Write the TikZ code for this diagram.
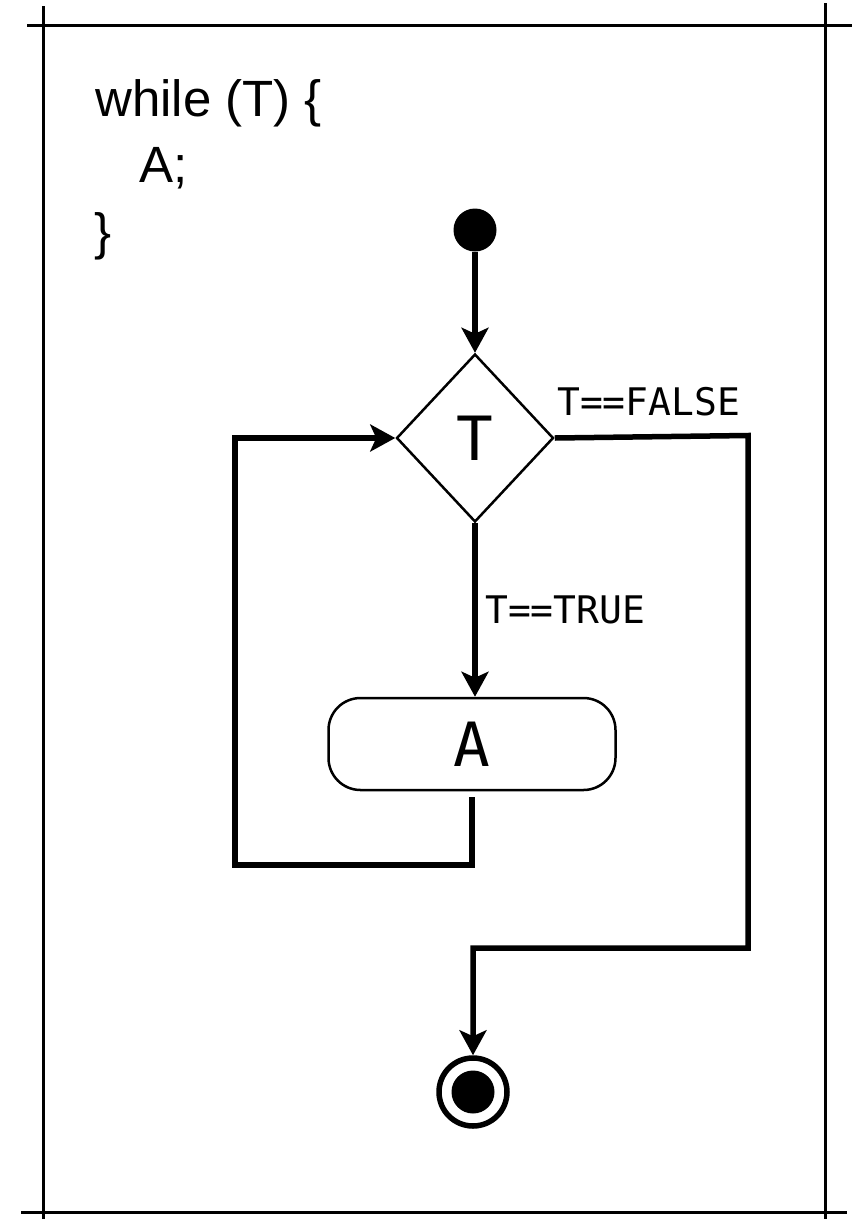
\documentclass[tikz,border=0pt]{standalone}
\usepackage{fontspec}
\setmainfont{Liberation Sans}
\newfontfamily\monof{DejaVu Sans Mono}
\usetikzlibrary{arrows.meta,shapes.geometric}
\begin{document}
\begin{tikzpicture}[x=1pt,y=-1pt,
  conn/.style={line width=5.5pt, -{Stealth[length=25pt,width=27pt,inset=6pt]}},
  frame/.style={line width=3pt},
  dec/.style={diamond, draw, line width=2.5pt, minimum width=157pt, minimum height=168pt, inner sep=0pt, font=\monof\fontsize{61}{61}\selectfont},
  act/.style={rectangle, rounded corners=32pt, draw, line width=2.5pt, minimum width=287pt, minimum height=92pt, inner sep=0pt, font=\monof\fontsize{61}{61}\selectfont},
  lbl/.style={font=\monof\fontsize{38}{38}\selectfont, inner sep=0pt, anchor=base west},
  code/.style={font=\fontsize{51}{51}\selectfont, inner sep=0pt, anchor=base west},
  initnode/.style={circle, fill, inner sep=0pt, minimum size=43pt},
  finalring/.style={circle, draw, line width=5.5pt, inner sep=0pt, minimum size=68pt}
]
\useasboundingbox (0,0) rectangle (856,1219);
% frame
\draw[frame] (27,25) -- (852,25);
\draw[frame] (21,1212) -- (847,1212);
\draw[frame] (43,6) -- (43,1219);
\draw[frame] (825,3) -- (825,1219);
% code text
\node[code] (c1) at (95,116) {while (T) \{};
\node[code] (c2) at (139,182) {A;};
\node[code] (c3) at (94,249) {\}};
% nodes
\node[initnode] (start) at (475,230) {};
\node[dec] (dec) at (475,438) {T};
\node[act] (act) at (472,744) {A};
\node[finalring] (end) at (473,1092) {};
\node[initnode] (endin) at (end.center) {};
% labels
\node[lbl] (lf) at (557,415) {T==FALSE};
\node[lbl] (lt) at (485,623) {T==TRUE};
% coordinates
\coordinate (ls) at (472,797);
\coordinate (l1) at (472,865);
\coordinate (l2) at (235,865);
\coordinate (l3) at (235,438);
\coordinate (f1) at (748,435.5);
\coordinate (f2) at (748,948);
\coordinate (f3) at (473,948);
% connectors
\draw[conn] (start) -- (dec.north);
\draw[conn] (dec.south) -- (dec.south |- act.north);
\draw[conn] (ls) -- (l1) -- (l2) -- (l3) -- (dec.west);
\draw[conn] (dec.east) -- (f1) -- (f2) -- (f3) -- (end.north);
\end{tikzpicture}
\end{document}
